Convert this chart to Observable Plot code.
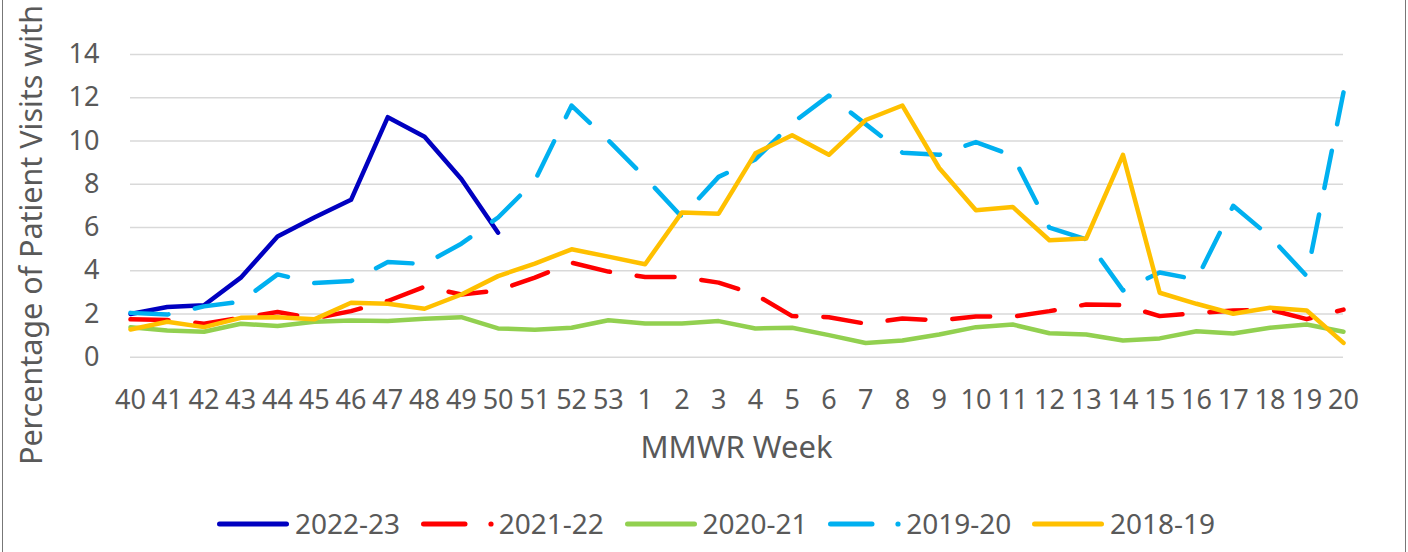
<!DOCTYPE html>
<html><head><meta charset="utf-8">
<script src="https://cdn.jsdelivr.net/npm/d3@7"></script>
<script src="https://cdn.jsdelivr.net/npm/@observablehq/plot@0.6"></script>
<style>
body{margin:0;background:#fff;}
#wrap{position:relative;width:1408px;height:552px;overflow:hidden;font-family:"Noto Sans",sans-serif;background:#fff;}
.bl{position:absolute;top:0;bottom:0;width:1.5px;background:#777;}
.item{position:absolute;top:500px;height:48px;display:flex;align-items:center;}
.item span{font-size:28px;line-height:28px;color:#595959;margin-left:5px;position:relative;top:-1px;}
</style></head><body><div id="wrap"></div>
<script>
const weeks = ["40","41","42","43","44","45","46","47","48","49","50","51","52","53",
  "1","2","3","4","5","6","7","8","9","10","11","12","13","14","15","16","17","18","19","20"];
const yTicks = [0,2,4,6,8,10,12,14];
const seasons = ["2022-23","2021-22","2020-21","2019-20","2018-19"];
const colors = ["#0000C0","#FF0000","#92D050","#00B0F0","#FFC000"];
const dashed = [false,true,false,true,false];

const s2223 = [2.0,2.32,2.4,3.68,5.58,6.46,7.28,11.1,10.2,8.24,5.76];
const s2122 = [1.75,1.72,1.55,1.82,2.09,1.8,2.13,2.6,3.26,2.9,3.09,3.68,4.37,3.96,
  3.71,3.71,3.45,2.9,1.9,1.85,1.55,1.79,1.7,1.88,1.88,2.13,2.44,2.41,1.9,2.04,2.16,2.2,1.76,2.2];
const s2021 = [1.39,1.24,1.18,1.55,1.44,1.64,1.7,1.67,1.78,1.85,1.33,1.27,1.36,1.71,
  1.56,1.56,1.67,1.33,1.36,1.02,0.66,0.77,1.05,1.39,1.51,1.11,1.05,0.77,0.87,1.2,1.1,1.36,1.51,1.18];
const s1920 = [2.05,1.97,2.35,2.57,3.83,3.43,3.52,4.4,4.31,5.25,6.46,8.16,11.64,10.03,
  8.31,6.49,8.34,9.15,10.82,12.1,10.78,9.46,9.36,9.95,9.32,5.99,5.45,3.09,3.92,3.59,7.0,5.58,3.75,12.25];
const s1819 = [1.28,1.64,1.39,1.82,1.85,1.75,2.52,2.47,2.24,2.9,3.75,4.33,4.99,4.65,
  4.3,6.69,6.64,9.43,10.27,9.36,10.97,11.64,8.75,6.8,6.95,5.41,5.49,9.36,2.98,2.47,2.01,2.29,2.16,0.66];
const seriesValues = [s2223,s2122,s2021,s1920,s1819];

const wrap = document.getElementById("wrap");

const lineMarks = seriesValues.map((vals,i) => {
  const rows = vals.map((v,j) => ({week: weeks[j], value: v}));
  return Plot.line(rows, {x:"week", y:"value", stroke: colors[i], strokeWidth:4.5,
    strokeLinejoin:"round", strokeLinecap:"round",
    strokeDasharray: dashed[i] ? "38,27" : null});
});

const chart = Plot.plot({
  width:1408, height:500,
  marginLeft:130, marginRight:65, marginTop:54, marginBottom:143.3,
  style:{fontFamily:"'Noto Sans', sans-serif", fontSize:"27px", color:"#595959", background:"transparent", overflow:"visible"},
  x:{type:"point", domain:weeks, padding:0, round:false, label:null},
  y:{domain:[0,14], label:null},
  marks:[
    Plot.gridY(yTicks, {stroke:"#D9D9D9", strokeOpacity:1, strokeWidth:1.4}),
    Plot.axisX({tickSize:0, tickPadding:33, label:null, fontSize:27}),
    Plot.axisY(yTicks, {tickSize:0, tickPadding:31, label:null, fontSize:27}),
    ...lineMarks
  ]
});
wrap.appendChild(chart);

const svg = d3.select(chart);
svg.append("text")
  .attr("transform","translate(41.5,465) rotate(-90)")
  .attr("text-anchor","start")
  .attr("font-size",30)
  .attr("fill","#595959")
  .attr("textLength",460)
  .attr("lengthAdjust","spacingAndGlyphs")
  .text("Percentage of Patient Visits with");
svg.append("text")
  .attr("x",736.5).attr("y",458)
  .attr("text-anchor","middle")
  .attr("font-size",31)
  .attr("fill","#595959")
  .text("MMWR Week");

// borders
const lb = document.createElement("div"); lb.className="bl"; lb.style.left="1.5px"; wrap.appendChild(lb);
const rb = document.createElement("div"); rb.className="bl"; rb.style.left="1404.5px"; wrap.appendChild(rb);

// legend
seasons.forEach((s,i) => {
  const item = document.createElement("div");
  item.className = "item";
  item.style.left = (217 + i*203.75) + "px";
  let shape;
  if (dashed[i]) {
    shape = `<line x1="2.5" y1="5" x2="44" y2="5" stroke="${colors[i]}" stroke-width="5" stroke-linecap="round"/>
             <circle cx="70" cy="5" r="2.6" fill="${colors[i]}"/>`;
  } else {
    shape = `<line x1="2.5" y1="5" x2="69.5" y2="5" stroke="${colors[i]}" stroke-width="5" stroke-linecap="round"/>`;
  }
  item.innerHTML = `<svg width="73" height="10" style="display:block">${shape}</svg><span>${s}</span>`;
  wrap.appendChild(item);
});
</script>
</body></html>
